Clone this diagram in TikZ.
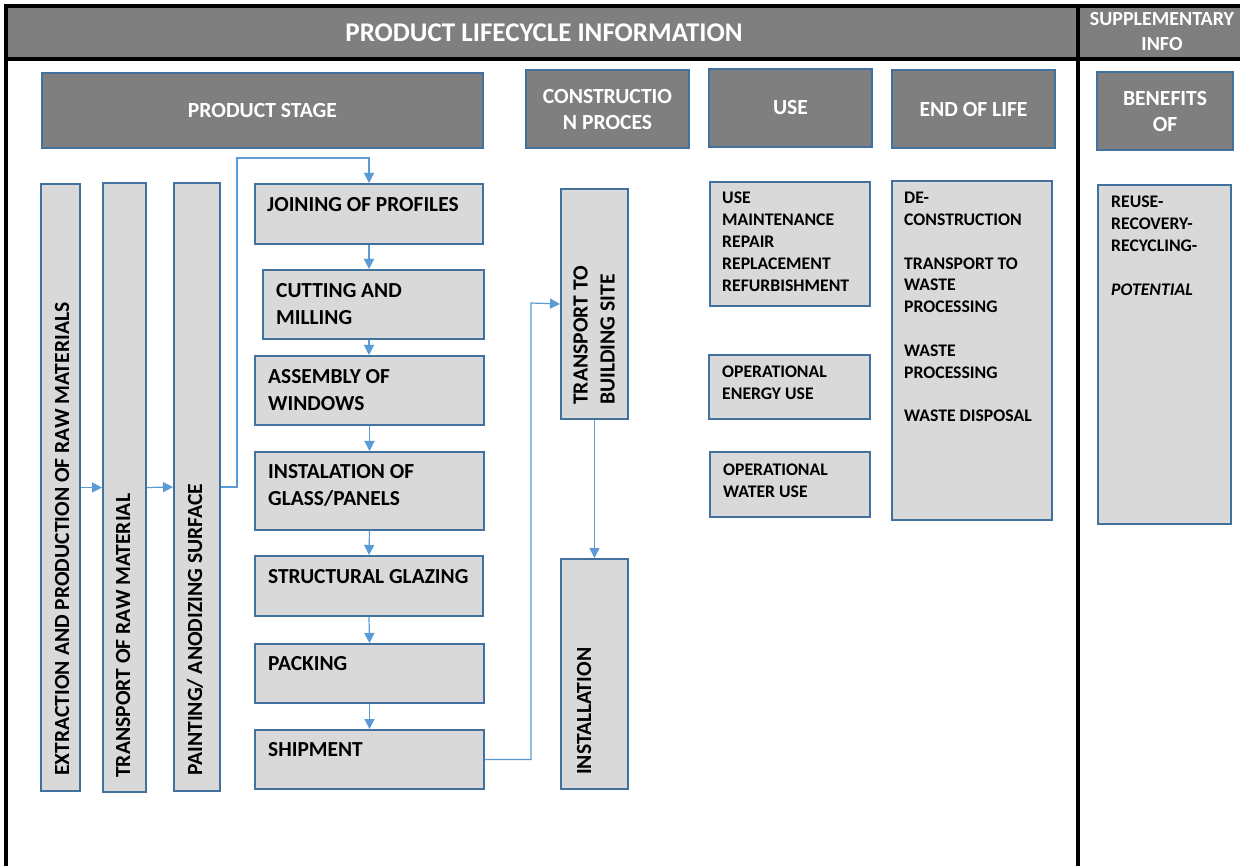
\documentclass[tikz,border=0pt]{standalone}
\usepackage{fontspec}
\setmainfont{Carlito}
\usetikzlibrary{arrows.meta}
\definecolor{hdrgray}{RGB}{127,127,127}
\definecolor{lgray}{RGB}{217,217,217}
\definecolor{bordblue}{RGB}{65,113,156}
\definecolor{arrblue}{RGB}{91,155,213}
\tikzset{
  hdrbox/.style={draw=bordblue, fill=hdrgray, line width=2pt, text=white, align=center, inner sep=0pt,
    font=\bfseries\fontsize{21.6}{26}\selectfont, anchor=north west},
  lbox/.style={draw=bordblue, fill=lgray, line width=2pt, inner sep=0pt, anchor=north west},
  bigtxt/.style={inner sep=0pt, anchor=north west, align=left, font=\bfseries\fontsize{21.4}{27}\selectfont},
  smalltxt/.style={inner sep=0pt, anchor=north west, align=left, font=\bfseries\fontsize{17.7}{21.8}\selectfont},
  vtxt/.style={inner sep=0pt, anchor=west, rotate=90, align=left, font=\bfseries\fontsize{21.6}{27}\selectfont},
  arr/.style={draw=arrblue, line width=1.2pt, -{Triangle[length=10pt,width=10pt]}},
  frame/.style={line width=4pt, black}
}
\begin{document}
\begin{tikzpicture}[x=1pt,y=-1pt]
\useasboundingbox (0,0) rectangle (1240,866);
\fill[white] (0,0) rectangle (1240,866);
% header band
\fill[hdrgray] (6,6) rectangle (1240,59);
\draw[frame] (4,6) -- (1240,6);
\draw[frame] (4,59) -- (1240,59);
\draw[frame] (6,4) -- (6,866);
\draw[frame] (1078,4) -- (1078,866);
\node[text=white, font=\bfseries\fontsize{27}{30}\selectfont] (title) at (544,33) {PRODUCT LIFECYCLE INFORMATION};
\node[text=white, align=center, font=\bfseries\fontsize{20}{25}\selectfont] (supp) at (1162,32) {SUPPLEMENTARY\\INFO};

% stage headers
\node[hdrbox, minimum width=441pt, minimum height=75pt] (hps) at (41,72) {PRODUCT STAGE};
\node[hdrbox, minimum width=163pt, minimum height=78pt] (hcp) at (525,69) {CONSTRUCTIO\\N PROCES};
\node[hdrbox, minimum width=163pt, minimum height=78pt] (huse) at (708,68) {USE};
\node[hdrbox, minimum width=163pt, minimum height=78pt] (heol) at (891,69) {END OF LIFE};
\node[hdrbox, minimum width=136pt, minimum height=78pt] (hben) at (1096,71) {BENEFITS\\OF};

% vertical bars
\node[lbox, minimum width=39pt, minimum height=607pt] (ext) at (40,183) {};
\node[lbox, minimum width=43pt, minimum height=609pt] (trm) at (102,182) {};
\node[lbox, minimum width=46pt, minimum height=608pt] (pnt) at (173,182) {};
\node[vtxt] (extT) at (62,776) {EXTRACTION AND PRODUCTION OF RAW MATERIALS};
\node[vtxt] (trmT) at (123,778) {TRANSPORT OF RAW MATERIAL};
\node[vtxt] (pntT) at (195,776) {PAINTING/ ANODIZING SURFACE};

% process steps
\node[lbox, minimum width=228pt, minimum height=60pt] (join) at (254,183) {};
\node[lbox, minimum width=221pt, minimum height=69pt] (cut) at (262,269) {};
\node[lbox, minimum width=229pt, minimum height=69pt] (asm) at (254,355) {};
\node[lbox, minimum width=229pt, minimum height=78pt] (ins) at (254,451) {};
\node[lbox, minimum width=228pt, minimum height=60pt] (sgl) at (254,555) {};
\node[lbox, minimum width=229pt, minimum height=59pt] (pck) at (254,643) {};
\node[lbox, minimum width=229pt, minimum height=59pt] (shp) at (254,729) {};
\node[bigtxt] (joinT) at (267,197) {JOINING OF PROFILES};
\node[bigtxt] (cutT) at (276,283) {CUTTING AND\\MILLING};
\node[bigtxt] (asmT) at (268,369) {ASSEMBLY OF\\WINDOWS};
\node[bigtxt] (insT) at (268,464) {INSTALATION OF\\GLASS/PANELS};
\node[bigtxt] (sglT) at (268,569) {STRUCTURAL GLAZING};
\node[bigtxt] (pckT) at (268,656) {PACKING};
\node[bigtxt] (shpT) at (268,742) {SHIPMENT};

% construction process
\node[lbox, minimum width=67pt, minimum height=230pt] (tbs) at (560,188) {};
\node[lbox, minimum width=67pt, minimum height=230pt] (inst) at (560,558) {};
\node[vtxt] (tbsT) at (594,405) {TRANSPORT TO\\BUILDING SITE};
\node[vtxt] (instT) at (584,775) {INSTALLATION};

% use
\node[lbox, minimum width=160pt, minimum height=124pt] (use1) at (709,181) {};
\node[lbox, minimum width=161pt, minimum height=64pt] (use2) at (708,354) {};
\node[lbox, minimum width=160pt, minimum height=65pt] (use3) at (709,451) {};
\node[smalltxt] (use1T) at (722,192) {USE\\MAINTENANCE\\REPAIR\\REPLACEMENT\\REFURBISHMENT};
\node[smalltxt] (use2T) at (722,366) {OPERATIONAL\\ENERGY USE};
\node[smalltxt] (use3T) at (723,464) {OPERATIONAL\\WATER USE};

% end of life
\node[lbox, minimum width=160pt, minimum height=339pt] (eol) at (891,180) {};
\node[smalltxt] (eolT) at (904,192) {DE-\\CONSTRUCTION\\[21.8pt]TRANSPORT TO\\WASTE\\PROCESSING\\[21.8pt]WASTE\\PROCESSING\\[21.8pt]WASTE DISPOSAL};

% benefits
\node[lbox, minimum width=133pt, minimum height=339pt] (ben) at (1097,184) {};
\node[smalltxt] (benT) at (1111,196) {REUSE-\\RECOVERY-\\RECYCLING-\\[21.8pt]\textit{POTENTIAL}};

% connectors
\coordinate (c1) at (237,158);
\coordinate (c2) at (531,303);
\draw[arr] (ext.east) -- (trm.west);
\draw[arr] (trm.east) -- (pnt.west);
\draw[arr] (pnt.east) -| (c1) -| (join.north);
\draw[arr] (join.south) -- (join.south |- cut.north);
\draw[arr] (join.south |- cut.south) -- (join.south |- asm.north);
\draw[arr] (asm.south) -- (ins.north);
\draw[arr] (ins.south) -- (sgl.north);
\draw[arr] (sgl.south) -- (pck.north);
\draw[arr] (pck.south) -- (shp.north);
\draw[arr] (shp.east) -| (c2) -- (tbs.west);
\draw[arr] (tbs.south) -- (inst.north);
\end{tikzpicture}
\end{document}
